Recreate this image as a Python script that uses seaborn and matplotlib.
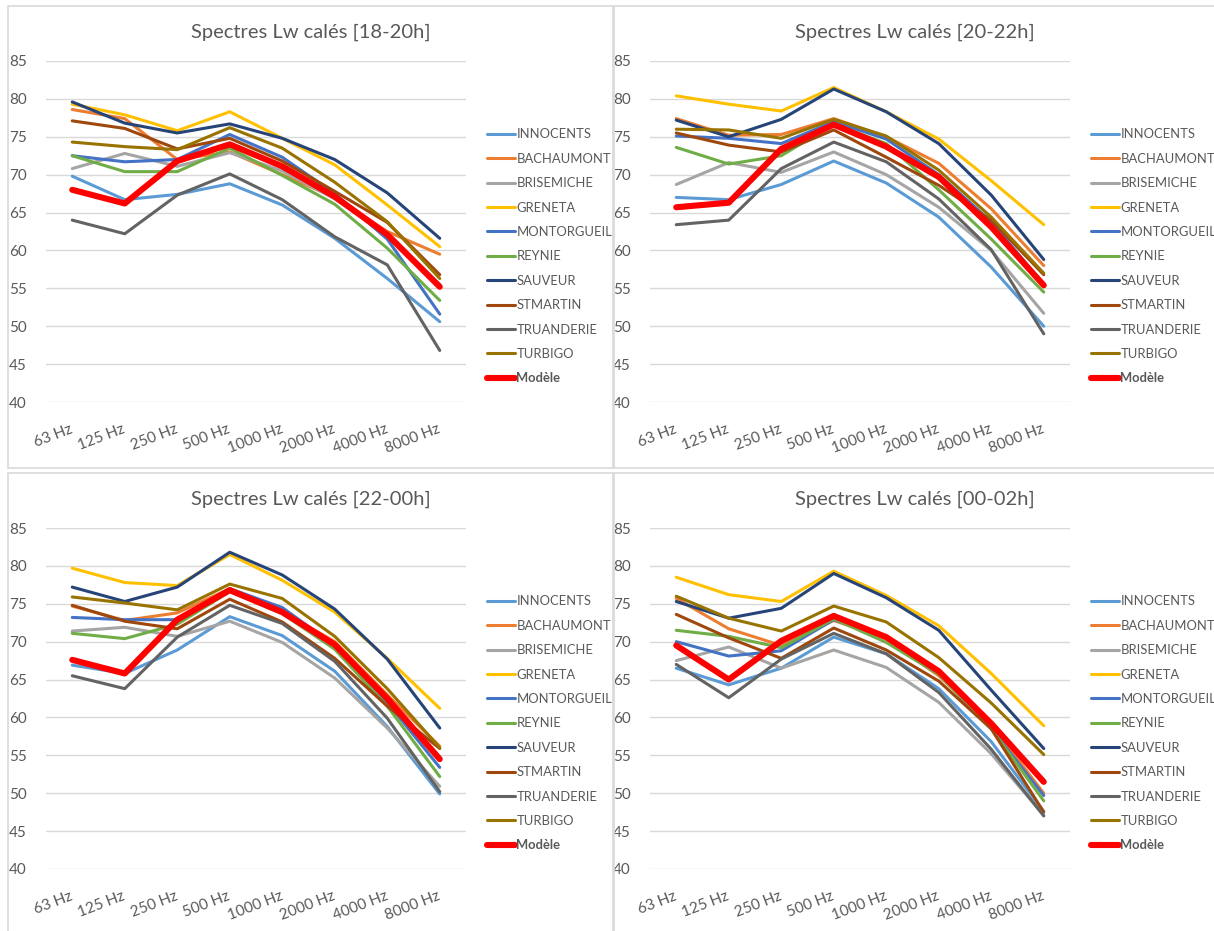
import matplotlib
matplotlib.use('Agg')
import matplotlib.pyplot as plt
from matplotlib.patches import Rectangle
from matplotlib.lines import Line2D
import seaborn as sns
import pandas as pd

freqs = ['63 Hz', '125 Hz', '250 Hz', '500 Hz', '1000 Hz', '2000 Hz', '4000 Hz', '8000 Hz']
stations = ['INNOCENTS', 'BACHAUMONT', 'BRISEMICHE', 'GRENETA', 'MONTORGUEIL', 'REYNIE',
            'SAUVEUR', 'STMARTIN', 'TRUANDERIE', 'TURBIGO', 'Modèle']

lw_18_20 = {
    'INNOCENTS':   [69.8, 66.7, 67.4, 68.8, 66.0, 61.6, 56.3, 50.6],
    'BACHAUMONT':  [78.6, 77.4, 72.0, 73.0, 70.0, 67.0, 62.5, 59.5],
    'BRISEMICHE':  [70.8, 72.8, 71.1, 72.9, 70.5, 66.8, 62.3, 55.5],
    'GRENETA':     [79.3, 77.9, 75.8, 78.3, 74.8, 71.3, 66.0, 60.5],
    'MONTORGUEIL': [72.5, 71.7, 72.0, 75.3, 72.3, 67.5, 61.5, 51.6],
    'REYNIE':      [72.5, 70.4, 70.4, 73.5, 69.9, 66.1, 60.3, 53.4],
    'SAUVEUR':     [79.6, 76.8, 75.5, 76.7, 74.8, 72.0, 67.6, 61.6],
    'STMARTIN':    [77.1, 76.1, 73.4, 74.8, 71.8, 67.8, 63.7, 56.8],
    'TRUANDERIE':  [64.0, 62.2, 67.3, 70.1, 66.7, 61.8, 58.1, 46.8],
    'TURBIGO':     [74.3, 73.7, 73.3, 76.2, 73.5, 69.0, 63.8, 56.3],
    'Modèle':      [68.0, 66.2, 71.8, 74.0, 71.1, 67.1, 62.1, 55.2],
}

lw_20_22 = {
    'INNOCENTS':   [67.0, 66.7, 68.7, 71.8, 68.9, 64.4, 57.8, 50.0],
    'BACHAUMONT':  [77.4, 75.2, 75.3, 77.4, 75.0, 71.5, 65.5, 58.0],
    'BRISEMICHE':  [68.7, 71.6, 70.3, 73.0, 70.0, 65.7, 60.0, 51.7],
    'GRENETA':     [80.4, 79.3, 78.4, 81.5, 78.3, 74.7, 69.2, 63.4],
    'MONTORGUEIL': [75.1, 74.8, 74.1, 77.0, 74.7, 70.0, 63.8, 55.5],
    'REYNIE':      [73.6, 71.4, 72.5, 76.7, 74.1, 68.0, 61.5, 54.5],
    'SAUVEUR':     [77.2, 75.0, 77.3, 81.3, 78.3, 74.1, 67.3, 58.8],
    'STMARTIN':    [75.5, 73.9, 73.0, 75.9, 72.3, 68.6, 64.0, 56.8],
    'TRUANDERIE':  [63.4, 64.0, 70.8, 74.3, 71.7, 66.8, 60.1, 49.0],
    'TURBIGO':     [76.0, 75.9, 74.8, 77.3, 75.1, 70.6, 64.4, 57.0],
    'Modèle':      [65.7, 66.3, 73.4, 76.6, 73.7, 69.7, 63.1, 55.4],
}

lw_22_00 = {
    'INNOCENTS':   [66.9, 65.8, 68.9, 73.3, 70.8, 66.1, 58.8, 49.9],
    'BACHAUMONT':  [74.7, 72.8, 73.8, 77.0, 74.0, 70.0, 63.0, 56.2],
    'BRISEMICHE':  [71.4, 71.9, 70.7, 72.7, 69.9, 65.2, 58.6, 50.9],
    'GRENETA':     [79.7, 77.8, 77.4, 81.5, 78.1, 73.9, 67.8, 61.2],
    'MONTORGUEIL': [73.2, 72.9, 72.9, 77.0, 74.5, 69.5, 62.0, 53.4],
    'REYNIE':      [71.1, 70.4, 72.3, 76.6, 73.7, 69.0, 61.5, 52.2],
    'SAUVEUR':     [77.2, 75.3, 77.2, 81.8, 78.8, 74.3, 67.7, 58.6],
    'STMARTIN':    [74.8, 72.7, 71.7, 75.6, 72.6, 67.8, 61.5, 55.9],
    'TRUANDERIE':  [65.5, 63.8, 70.6, 74.8, 72.4, 67.4, 59.9, 50.2],
    'TURBIGO':     [75.9, 75.1, 74.2, 77.6, 75.7, 70.7, 63.8, 56.0],
    'Modèle':      [67.6, 65.8, 72.9, 76.8, 73.9, 69.6, 62.5, 54.5],
}

lw_00_02 = {
    'INNOCENTS':   [66.5, 64.3, 66.5, 70.6, 68.4, 63.8, 56.8, 47.6],
    'BACHAUMONT':  [75.7, 71.7, 69.5, 72.8, 70.4, 65.5, 59.0, 50.0],
    'BRISEMICHE':  [67.5, 69.3, 66.5, 68.9, 66.6, 62.0, 55.2, 47.1],
    'GRENETA':     [78.5, 76.2, 75.3, 79.3, 76.1, 72.1, 65.8, 58.9],
    'MONTORGUEIL': [70.0, 68.1, 68.8, 72.9, 70.5, 66.0, 58.5, 49.7],
    'REYNIE':      [71.5, 70.7, 69.2, 73.0, 69.9, 65.7, 58.5, 49.0],
    'SAUVEUR':     [75.3, 73.1, 74.4, 79.0, 75.8, 71.5, 63.6, 55.9],
    'STMARTIN':    [73.6, 70.5, 67.8, 71.8, 68.9, 64.8, 58.5, 47.5],
    'TRUANDERIE':  [67.0, 62.6, 67.7, 71.1, 68.4, 63.3, 55.8, 47.0],
    'TURBIGO':     [76.0, 73.1, 71.4, 74.7, 72.6, 67.9, 61.9, 55.1],
    'Modèle':      [69.5, 65.0, 70.1, 73.4, 70.6, 66.1, 59.2, 51.5],
}

titles = ['Spectres Lw calés [18-20h]', 'Spectres Lw calés [20-22h]',
          'Spectres Lw calés [22-00h]', 'Spectres Lw calés [00-02h]']

colors = {
    'INNOCENTS': '#5B9BD5', 'BACHAUMONT': '#ED7D31', 'BRISEMICHE': '#A5A5A5',
    'GRENETA': '#FFC000', 'MONTORGUEIL': '#4472C4', 'REYNIE': '#70AD47',
    'SAUVEUR': '#264478', 'STMARTIN': '#9E480E', 'TRUANDERIE': '#636363',
    'TURBIGO': '#997300', 'Modèle': '#FF0000',
}
widths = {s: 2.2 for s in stations}
widths['Modèle'] = 4.4

sns.set_theme(style='white')
plt.rcParams['font.family'] = ['Lato', 'DejaVu Sans']
txt = '#595959'

W, H = 1214, 931
fig = plt.figure(figsize=(W / 100, H / 100), dpi=100)

# panel frames (pixels: x0, y0, x1, y1)
frames = [(8, 6, 613, 468), (614, 6, 1230, 468), (8, 473, 613, 950), (614, 473, 1230, 950)]
for x0, y0, x1, y1 in frames:
    fig.add_artist(Rectangle((x0 / W, 1 - y1 / H), (x1 - x0) / W, (y1 - y0) / H,
                             transform=fig.transFigure, fill=False,
                             edgecolor='#D9D9D9', linewidth=1.2))

# axes placement (pixels: left, top)
axpos = [(46, 61), (650, 61), (46, 528), (650, 528)]
ax_w, ax_h = 420, 341
panels = [lw_18_20, lw_20_22, lw_22_00, lw_00_02]

for i, data in enumerate(panels):
    left, top = axpos[i]
    ax = fig.add_axes([left / W, 1 - (top + ax_h) / H, ax_w / W, ax_h / H])
    df = pd.DataFrame([(s, f, v) for s in stations for f, v in zip(freqs, data[s])],
                      columns=['station', 'freq', 'Lw'])
    sns.lineplot(data=df, x='freq', y='Lw', hue='station', hue_order=stations,
                 palette=colors, size='station', size_order=stations, sizes=widths,
                 sort=False, legend=False, ax=ax)
    ax.set_xlim(-0.5, len(freqs) - 0.5)
    ax.set_ylim(40, 85)
    ax.set_yticks(range(40, 86, 5))
    ax.set_xlabel('')
    ax.set_ylabel('')
    ax.grid(axis='y', color='#D9D9D9', linewidth=1.0)
    ax.grid(axis='x', visible=False)
    ax.set_axisbelow(True)
    for sp in ax.spines.values():
        sp.set_visible(False)
    ax.tick_params(length=0, labelcolor=txt)
    ax.tick_params(axis='y', pad=14, labelsize=11)
    ax.tick_params(axis='x', pad=19, labelsize=11)
    plt.setp(ax.get_xticklabels(), rotation=21, ha='right', va='center', rotation_mode='anchor')

    fig.text((left + 265) / W, 1 - (top - 29) / H, titles[i], ha='center', va='center',
             fontsize=14.5, color=txt)

    handles = [Line2D([], [], color=colors[s], linewidth=widths[s]) for s in stations]
    leg = ax.legend(handles, stations, loc='center left', bbox_to_anchor=(1.05, 0.427),
                    frameon=False, fontsize=9.4, handlelength=2.15, handletextpad=0.1,
                    labelspacing=0.95, borderpad=0, borderaxespad=0)
    for t in leg.get_texts():
        t.set_color(txt)
        if t.get_text() == 'Modèle':
            t.set_fontweight('bold')

fig.savefig('out.png', dpi=100, facecolor='white')
